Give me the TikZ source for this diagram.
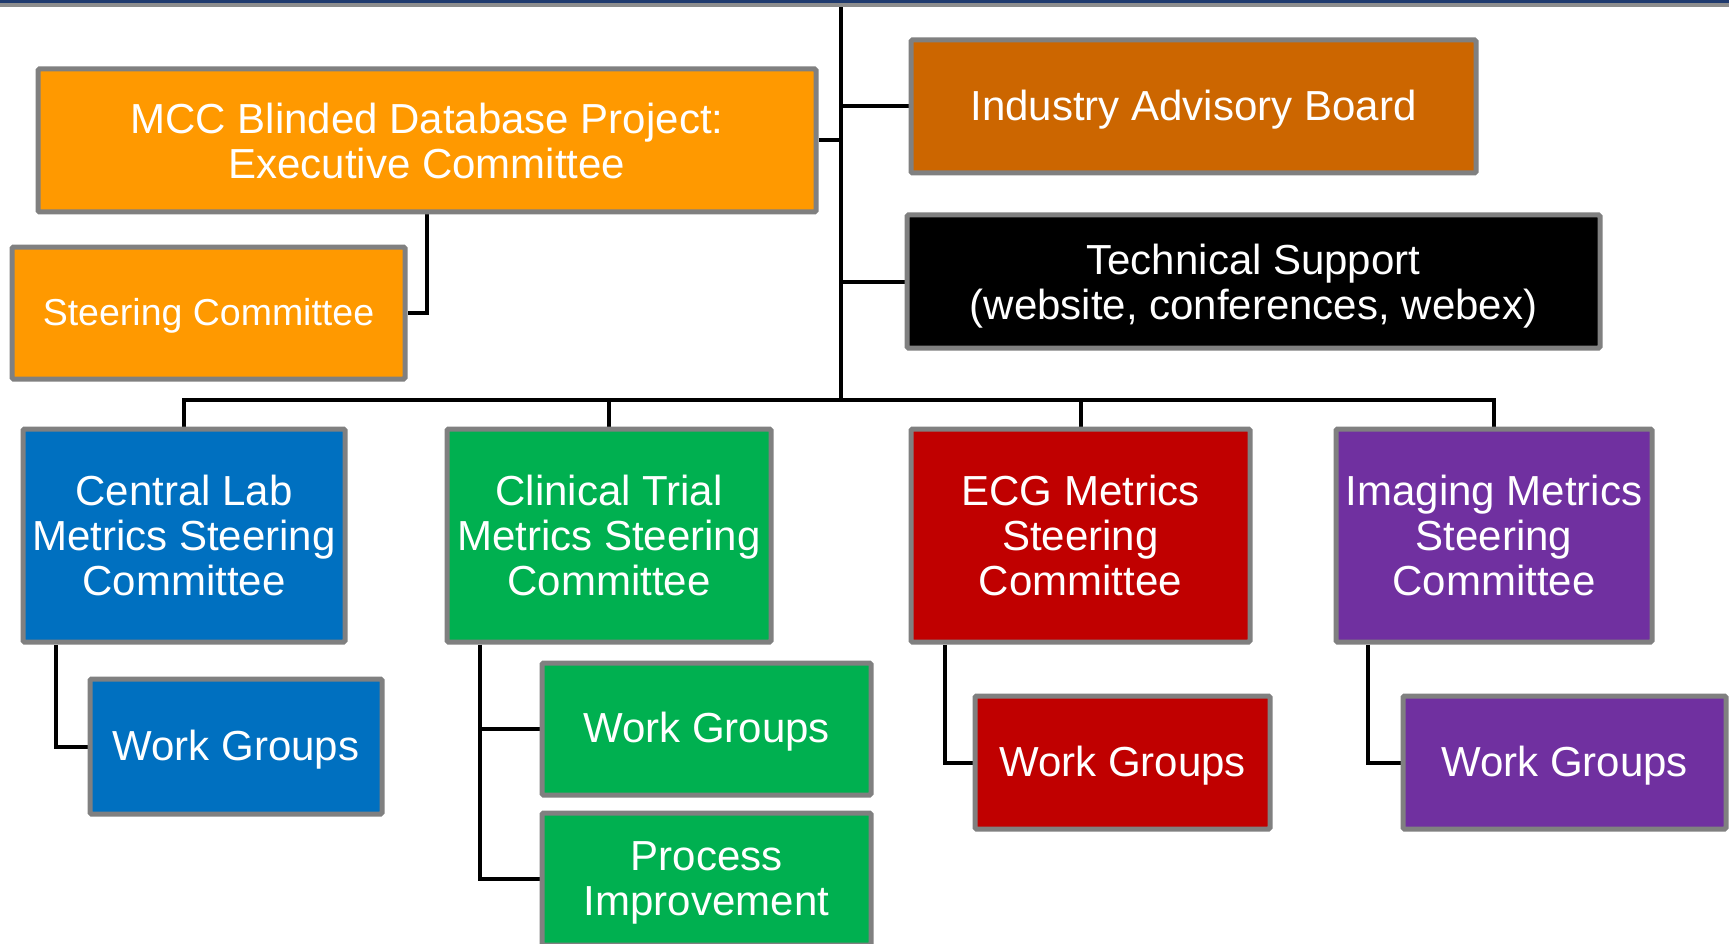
\documentclass[tikz,border=0pt]{standalone}
\usepackage{fontspec}
\setmainfont{Liberation Sans}
\usetikzlibrary{backgrounds}
\definecolor{orgA}{HTML}{FF9900}
\definecolor{orgB}{HTML}{CC6600}
\definecolor{blueC}{HTML}{0070C0}
\definecolor{greenC}{HTML}{00B050}
\definecolor{redC}{HTML}{C00000}
\definecolor{purpC}{HTML}{7030A0}
\definecolor{borderC}{HTML}{808080}
\definecolor{navyC}{HTML}{1F3A6E}
\tikzset{
  orgbox/.style={draw=borderC, line width=5pt, rounded corners=1.5pt, text=white,
    align=center, inner sep=0pt, font=\fontsize{42}{45}\selectfont},
  single/.style={execute at begin node={\rule{0pt}{0.86em}},
    execute at end node={\rule[-0.212em]{0pt}{0.212em}}},
  conn/.style={draw=black, line width=4pt}
}
\begin{document}
\begin{tikzpicture}[x=1pt,y=-1pt]
\useasboundingbox (0,0) rectangle (1729,944);
\clip (0,0) rectangle (1729,944);
\fill[navyC] (0,0) rectangle (1729,3);
\fill[borderC!90] (0,3) rectangle (1729,7);

% top row
\node[orgbox, fill=orgA, minimum width=778pt, minimum height=143pt] (exec) at (427,140.5)
  {MCC Blinded Database Project:\\Executive Committee};
\node[orgbox, single, fill=orgA, minimum width=393pt, minimum height=132pt,
  font=\fontsize{37.5}{40}\selectfont] (steer) at (208.5,313)
  {Steering Committee};
\node[orgbox, single, fill=orgB, minimum width=565pt, minimum height=133pt] (ind) at (1193.5,106.5)
  {Industry Advisory Board};
\node[orgbox, fill=black, minimum width=693pt, minimum height=133pt] (tech) at (1253.5,281.5)
  {Technical Support\\\smash{(website, conferences, webex)}};

% committees
\node[orgbox, fill=blueC, minimum width=322pt, minimum height=213pt] (central) at (184,535.5)
  {Central Lab\\Metrics Steering\\Committee};
\node[orgbox, fill=greenC, minimum width=324pt, minimum height=213pt] (clinical) at (609,535.5)
  {Clinical Trial\\Metrics Steering\\Committee};
\node[orgbox, fill=redC, minimum width=339pt, minimum height=213pt] (ecg) at (1080.5,535.5)
  {ECG Metrics\\Steering\\Committee};
\node[orgbox, fill=purpC, minimum width=316pt, minimum height=213pt] (imaging) at (1494,535.5)
  {Imaging Metrics\\Steering\\Committee};

% sub boxes
\node[orgbox, single, fill=blueC, minimum width=292pt, minimum height=135pt] (cwg) at (236,746.5)
  {Work Groups};
\node[orgbox, single, fill=greenC, minimum width=329pt, minimum height=132pt] (clwg) at (706.5,729)
  {Work Groups};
\node[orgbox, fill=greenC, minimum width=329pt, minimum height=132pt] (proc) at (706.5,879)
  {Process\\\smash{Improvement}};
\node[orgbox, single, fill=redC, minimum width=295pt, minimum height=133pt] (ewg) at (1122.5,762.5)
  {Work Groups};
\node[orgbox, single, fill=purpC, minimum width=323pt, minimum height=133pt] (iwg) at (1564.5,762.5)
  {Work Groups};

\coordinate (top) at (841,7);
\coordinate (bus) at (841,400);
\coordinate (xc) at (56,0);
\coordinate (xcl) at (480,0);
\coordinate (xe) at (945,0);
\coordinate (xi) at (1368,0);

\begin{scope}[on background layer]
\draw[conn] (top) -- (bus);
\draw[conn] (exec.east) -- (exec.east -| top);
\draw[conn] (ind.west) -- (ind.west -| top);
\draw[conn] (tech.west) -- (tech.west -| top);
\draw[conn] (exec.south) |- (steer.east);
\draw[conn] (central.north) |- (bus);
\draw[conn] (clinical.north) |- (bus);
\draw[conn] (ecg.north) |- (bus);
\draw[conn] (imaging.north) |- (bus);
\draw[conn] (xc |- central.south) |- (cwg.west);
\draw[conn] (xcl |- clinical.south) |- (clwg.west);
\draw[conn] (xcl |- clinical.south) |- (proc.west);
\draw[conn] (xe |- ecg.south) |- (ewg.west);
\draw[conn] (xi |- imaging.south) |- (iwg.west);
\end{scope}
\end{tikzpicture}
\end{document}
